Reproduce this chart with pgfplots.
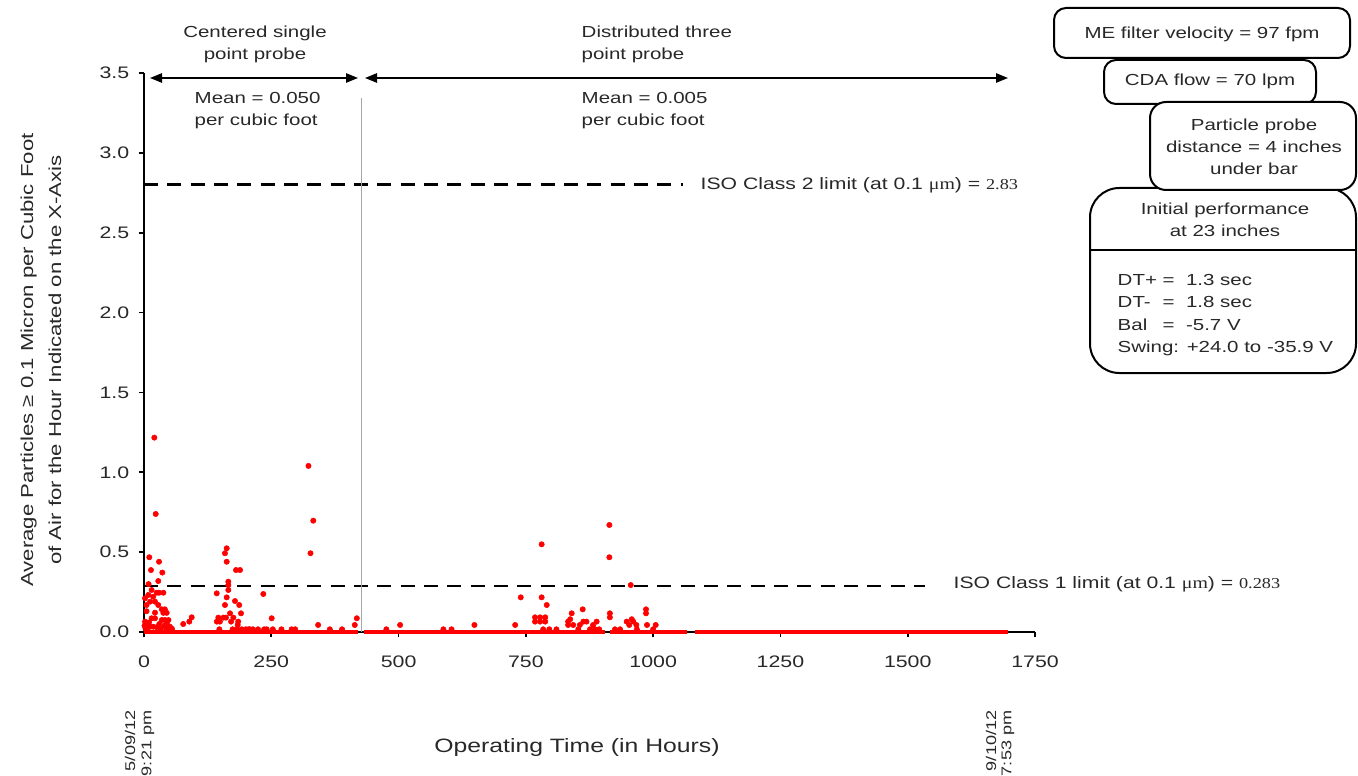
\documentclass[border=0pt]{standalone}
\usepackage{pgfplots}
\pgfplotsset{compat=1.18}
\usepackage{fontspec}
\setmainfont{Liberation Sans}[FakeStretch=1.28]
\newfontfamily\seriffont{Liberation Serif}[FakeStretch=1.2]
\usetikzlibrary{arrows.meta}
\definecolor{txt}{RGB}{40,40,40}

\pgfplotstableread{
h v
1 0.04
2 0.211
2 0.065
3 0.02
5 0.169
5 0.13
6 0.05
8 0.03
8.5 0.232
9 0.30
10 0.06
10.4 0.468
12 0.19
12 0.033
13.7 0.388
15 0.263
15 0.086
18 0.221
18.3 0.033
20.3 1.217
21.6 0.19
21.6 0.121
21.6 0.086
23 0.739
25 0.246
25 0.03
28 0.319
28 0.169
29.5 0.44
29.5 0.246
30 0.05
33 0.02
35 0.142
35 0.075
36 0.372
38 0.246
38 0.12
40 0.04
41 0.142
41 0.075
44.6 0.12
44 0.02
45 0.05
48 0.075
48 0.02
51 0.033
55 0.02
77 0.05
89 0.065
93.7 0.092
142.8 0.242
143 0.065
146 0.09
148 0.017
149 0.065
156 0.09
159 0.493
159 0.169
161 0.09
162.4 0.524
162.4 0.44
162.4 0.217
165.6 0.315
165.6 0.294
165.6 0.263
169 0.117
171 0.065
174 0.017
175.5 0.09
178.7 0.194
180.7 0.388
183 0.017
184 0.044
185 0.065
187 0.169
188.6 0.388
190.5 0.117
192 0.017
200 0.017
205 0.017
208 0.017
214 0.017
224 0.017
234.3 0.238
236 0.017
241 0.017
250.8 0.086
253 0.017
270 0.017
290 0.017
297 0.017
323 1.04
327 0.493
332.5 0.697
342 0.044
365 0.017
389 0.017
414 0.044
418 0.086
476 0.017
503 0.044
588 0.017
604 0.017
649 0.044
729 0.044
740 0.217
768 0.092
768 0.065
778 0.092
778 0.065
781 0.549
781 0.217
784 0.017
788 0.092
788 0.065
791 0.169
796 0.017
810 0.017
833 0.065
833 0.044
837 0.08
840 0.117
843 0.044
853 0.017
856 0.044
861.6 0.142
863 0.065
869 0.065
876 0.017
882 0.044
886 0.017
889 0.065
894 0.017
914 0.67
914 0.468
915 0.117
915 0.092
925 0.017
935 0.017
948 0.065
953 0.044
956 0.294
958 0.08
961 0.065
967 0.044
968 0.017
986 0.142
986 0.117
988 0.044
1000 0.017
1005 0.044
}\points

\begin{document}
\begin{tikzpicture}
\begin{axis}[
  at={(0,0)}, anchor=south west,
  scale only axis, width=668.25pt, height=419.25pt,
  xmin=0, xmax=1750, ymin=0, ymax=3.5,
  axis x line*=bottom, axis y line*=left,
  axis line style={line width=1.5pt, -, black},
  xtick={0,250,...,1750}, ytick={0,0.5,...,3.5},
  xticklabel style={/pgf/number format/set thousands separator={}, yshift=-10.5pt},
  yticklabel style={/pgf/number format/fixed, /pgf/number format/fixed zerofill, /pgf/number format/precision=1, xshift=-3.5pt},
  tick align=outside, major tick length=4pt,
  tick style={line width=1.2pt, black},
  /pgf/number format/assume math mode=true,
  tick label style={font=\fontsize{12.5}{14}\selectfont, text=txt},
  clip=false,
]
\addplot[black, line width=2pt, dash pattern=on 10.5pt off 7pt] coordinates {(0,2.8) (1058,2.8)};
\addplot[black, line width=2pt, dash pattern=on 10.5pt off 7pt] coordinates {(0,0.288) (1534,0.288)};
\addplot[gray!70, line width=0.8pt] coordinates {(428,0) (428,3.345)};
\addplot[red, line width=3pt] coordinates {(0,0) (420,0)};
\addplot[red, line width=3pt] coordinates {(432,0) (905,0)};
\addplot[red, line width=3pt] coordinates {(915,0) (1067,0)};
\addplot[red, line width=3pt] coordinates {(1083,0) (1696,0)};
\addplot[only marks, mark=*, mark size=2pt, mark options={draw=red, fill=red}] table[x=h, y=v] {\points};
\end{axis}

\begin{scope}[x=0.75pt, y=-0.75pt, shift={(-108pt,474pt)}, text=txt, font=\fontsize{12}{16.5}\selectfont]
\node[align=center] at (255,44) {Centered single\\point probe};
\node[anchor=west, align=left] at (577,44) {Distributed three\\point probe};
\node[anchor=west, align=left] at (190,111) {Mean = 0.050\\per cubic foot};
\node[anchor=west, align=left] at (577,111) {Mean = 0.005\\per cubic foot};
\draw[{Triangle[length=9pt,width=7pt]}-{Triangle[length=9pt,width=7pt]}, line width=1.2pt, black] (150,78) -- (358,78);
\draw[{Triangle[length=9pt,width=7pt]}-{Triangle[length=9pt,width=7pt]}, line width=1.2pt, black] (365,78) -- (1008,78);
\node[anchor=west, font=\fontsize{12.4}{16}\selectfont] at (696,185) {ISO Class 2 limit (at 0.1 {\seriffont μm}) = {\seriffont\fontsize{11.4}{12}\selectfont 2.83}};
\node[anchor=west, font=\fontsize{12.4}{16}\selectfont] at (949,584) {ISO Class 1 limit (at 0.1 {\seriffont μm}) = {\seriffont\fontsize{11.4}{12}\selectfont 0.283}};
% boxes
\draw[line width=1.5pt, rounded corners=9pt, fill=white] (1054,8) rectangle (1350,58);
\node at (1202,34) {ME filter velocity = 97 fpm};
\draw[line width=1.5pt, rounded corners=9pt, fill=white] (1104,60) rectangle (1316,104);
\node at (1210,81) {CDA flow = 70 lpm};
\draw[line width=1.5pt, rounded corners=22pt, fill=white] (1090,188) rectangle (1356,373);
\draw[line width=1.2pt] (1090,250) -- (1356,250);
\node[align=center] at (1225,220) {Initial performance\\at 23 inches};
\node[anchor=west] at (1113,280) {DT+};
\node[anchor=west] at (1113,302) {DT-};
\node[anchor=west] at (1113,325) {Bal};
\node[anchor=west] at (1158,280) {=\ \ 1.3 sec};
\node[anchor=west] at (1158,302) {=\ \ 1.8 sec};
\node[anchor=west] at (1158,325) {=\ \ -5.7 V};
\node[anchor=west] at (1113,348) {Swing: +24.0 to -35.9 V};
\draw[line width=1.5pt, rounded corners=12pt, fill=white] (1150,102) rectangle (1356,190);
\node[align=center, font=\fontsize{12}{16.5}\selectfont] at (1254,147) {Particle probe\\distance = 4 inches\\under bar};
% axis labels
\node[font=\fontsize{14.5}{18}\selectfont] at (577,747) {Operating Time (in Hours)};
\node[rotate=90, align=center, font=\fontsize{13}{21}\selectfont] at (41,360) {Average Particles ≥ 0.1 Micron per Cubic Foot\\of Air for the Hour Indicated on the X-Axis};
\node[rotate=90, anchor=east, font=\fontsize{10.6}{12}\selectfont] at (130,706) {5/09/12};
\node[rotate=90, anchor=east, font=\fontsize{10.6}{12}\selectfont] at (148,706) {9:21 pm};
\node[rotate=90, anchor=east, font=\fontsize{10.6}{12}\selectfont] at (991,706) {9/10/12};
\node[rotate=90, anchor=east, font=\fontsize{10.6}{12}\selectfont] at (1008,706) {7:53 pm};
\pgfresetboundingbox
\path[use as bounding box] (0,0) rectangle (1358,775);
\end{scope}
\end{tikzpicture}
\end{document}
